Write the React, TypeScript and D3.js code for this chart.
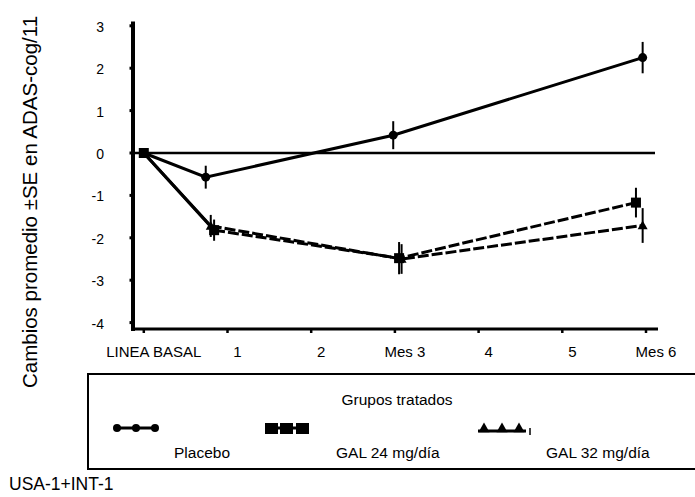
import React from "react";
import * as d3 from "d3";

const monthTicks = [0, 1, 2, 3, 4, 5, 6];
const monthLabels = ["LINEA BASAL", "1", "2", "Mes 3", "4", "5", "Mes 6"];
const yTicks = [3, 2, 1, 0, -1, -2, -3, -4];

const placeboX = [0, 0.74, 2.98, 5.96];
const placeboY = [0, -0.57, 0.42, 2.25];
const placeboSE = [0, 0.27, 0.33, 0.37];

const gal24X = [0, 0.84, 3.05, 5.88];
const gal24Y = [0, -1.82, -2.48, -1.17];
const gal24SE = [0, 0.25, 0.38, 0.35];

const gal32X = [0, 0.8, 3.08, 5.96];
const gal32Y = [0, -1.72, -2.5, -1.71];
const gal32SE = [0, 0.26, 0.35, 0.41];

const legendNames = ["Placebo", "GAL 24 mg/día", "GAL 32 mg/día"];

const FONT = "Liberation Sans, Arial, sans-serif";

export default function App() {
  const x = d3.scaleLinear().domain([0, 6]).range([143.8, 646]);
  const y = d3.scaleLinear().domain([-4, 3]).range([322.6, 25.8]);

  const mk = (xs: number[], ys: number[]) => xs.map((v, i) => [x(v), y(ys[i])] as [number, number]);
  const line = d3.line();

  const placebo = mk(placeboX, placeboY);
  const g24 = mk(gal24X, gal24Y);
  const g32 = mk(gal32X, gal32Y);

  const errBars = (xs: number[], ys: number[], se: number[], key: string) =>
    xs.map((v, i) =>
      se[i] > 0 ? (
        <line key={key + i} x1={x(v)} x2={x(v)} y1={y(ys[i] + se[i])} y2={y(ys[i] - se[i])} stroke="#000" strokeWidth={2} />
      ) : null
    );

  const tri = (cx: number, cy: number, s: number) =>
    `M${cx},${cy - s} L${cx + s},${cy + s * 0.75} L${cx - s},${cy + s * 0.75} Z`;

  return (
    <svg width={695} height={497} style={{ position: "absolute", left: 0, top: 0, background: "#fff" }}>
      <rect x={0} y={0} width={695} height={497} fill="#fff" />
      {/* y-axis title */}
      <text
        transform="translate(37,202) rotate(-90)"
        textAnchor="middle"
        fontFamily={FONT}
        fontSize={20.5}
        fill="#000"
      >
        Cambios promedio ±SE en ADAS-cog/11
      </text>

      {/* zero line */}
      <line x1={133} x2={655} y1={y(0)} y2={y(0)} stroke="#000" strokeWidth={2.5} />

      {/* y axis */}
      <line x1={133} x2={133} y1={21.5} y2={331} stroke="#000" strokeWidth={4} />
      {yTicks.map((t) => (
        <g key={"yt" + t}>
          <line x1={129.5} x2={133} y1={y(t)} y2={y(t)} stroke="#000" strokeWidth={3} />
          <text x={104} y={y(t) + 6} textAnchor="end" fontFamily={FONT} fontSize={14} fill="#000">
            {t}
          </text>
        </g>
      ))}

      {/* x axis */}
      <line x1={131} x2={658} y1={329} y2={329} stroke="#000" strokeWidth={3} />
      {monthTicks.map((t, i) => (
        <g key={"xt" + t}>
          <line x1={x(t)} x2={x(t)} y1={329} y2={333} stroke="#000" strokeWidth={2.5} />
          <text x={x(t) + 10} y={357} textAnchor="middle" fontFamily={FONT} fontSize={15} fill="#000">
            {monthLabels[i]}
          </text>
        </g>
      ))}

      {/* series lines: first segment solid, rest dashed */}
      <path d={line(g32.slice(0, 2)) || ""} fill="none" stroke="#000" strokeWidth={3} />
      <path d={line(g24.slice(0, 2)) || ""} fill="none" stroke="#000" strokeWidth={3} />
      <path d={line(g32.slice(1)) || ""} fill="none" stroke="#000" strokeWidth={3} strokeDasharray="11,3" />
      <path d={line(g24.slice(1)) || ""} fill="none" stroke="#000" strokeWidth={3} strokeDasharray="11,3" />
      <path d={line(placebo) || ""} fill="none" stroke="#000" strokeWidth={3} />

      {/* error bars */}
      {errBars(placeboX, placeboY, placeboSE, "pe")}
      {errBars(gal24X, gal24Y, gal24SE, "g24e")}
      {errBars(gal32X, gal32Y, gal32SE, "g32e")}

      {/* markers */}
      {placebo.map(([cx, cy], i) => (
        <circle key={"pm" + i} cx={cx} cy={cy} r={4.5} fill="#000" />
      ))}
      {g24.map(([cx, cy], i) => (
        <rect key={"g24m" + i} x={cx - 5} y={cy - 5} width={10} height={10} fill="#000" />
      ))}
      {g32.map(([cx, cy], i) => (
        <path key={"g32m" + i} d={tri(cx, cy, 5)} fill="#000" />
      ))}

      {/* legend box */}
      <rect x={88} y={374} width={620} height={95} fill="none" stroke="#000" strokeWidth={2} />
      <text x={397} y={405} textAnchor="middle" fontFamily={FONT} fontSize={15.5} fill="#000">
        Grupos tratados
      </text>

      {/* placebo legend symbol */}
      <line x1={115} x2={157} y1={428} y2={428} stroke="#000" strokeWidth={3} />
      {[117, 136, 155].map((cx) => (
        <circle key={"lp" + cx} cx={cx} cy={428} r={4} fill="#000" />
      ))}
      <text x={174} y={458} fontFamily={FONT} fontSize={15.5} fill="#000">
        {legendNames[0]}
      </text>

      {/* gal24 legend symbol */}
      <line x1={265} x2={309} y1={428} y2={428} stroke="#000" strokeWidth={3} />
      {[265, 280, 296].map((lx) => (
        <rect key={"lg" + lx} x={lx} y={423} width={13} height={11} fill="#000" />
      ))}
      <text x={336} y={458} fontFamily={FONT} fontSize={15.5} fill="#000">
        {legendNames[1]}
      </text>

      {/* gal32 legend symbol */}
      <line x1={478} x2={526} y1={431} y2={431} stroke="#000" strokeWidth={3} />
      {[484, 502, 519].map((cx) => (
        <path key={"lt" + cx} d={tri(cx, 428, 5.5)} fill="#000" />
      ))}
      <line x1={530} x2={530} y1={428} y2={435} stroke="#000" strokeWidth={1.5} />
      <text x={546} y={458} fontFamily={FONT} fontSize={15.5} fill="#000">
        {legendNames[2]}
      </text>

      {/* footer */}
      <text x={9} y={490} fontFamily={FONT} fontSize={17.5} fill="#000">
        USA-1+INT-1
      </text>
    </svg>
  );
}
